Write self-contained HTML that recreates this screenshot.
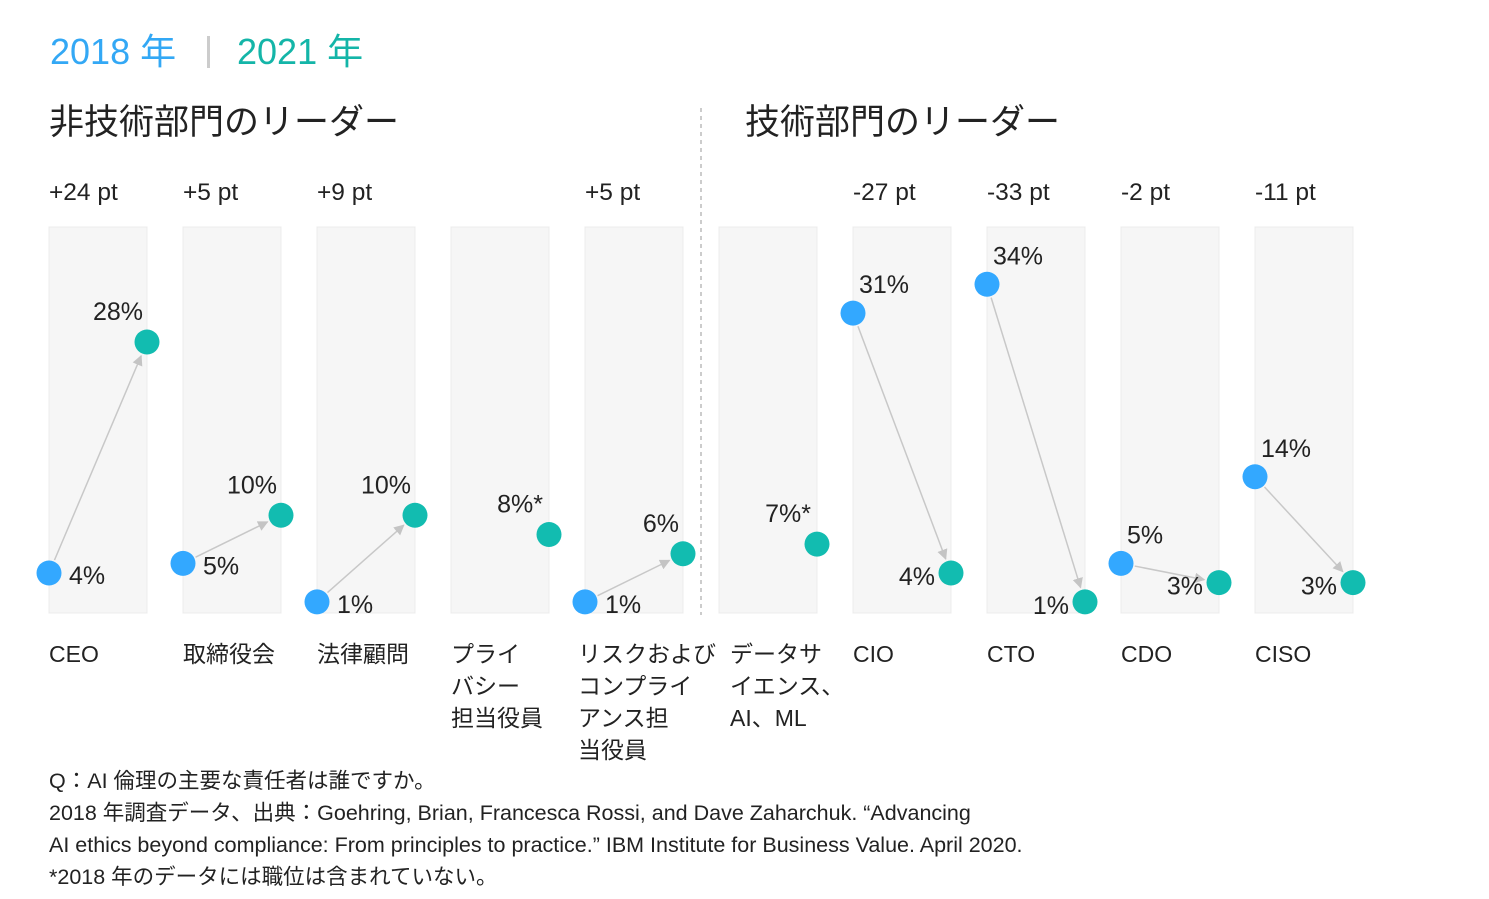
<!DOCTYPE html>
<html><head><meta charset="utf-8"><style>
body{margin:0;background:#fff;}
svg text{font-family:"Liberation Sans","Noto Sans CJK JP",sans-serif;}
</style></head><body>
<svg id="chart" width="1489" height="894" viewBox="0 0 1489 894">
<defs><marker id="ah" viewBox="0 0 10 10" refX="9" refY="5" markerWidth="7" markerHeight="7" orient="auto"><path d="M0,0L10,5L0,10z" fill="#c4c4c4"/></marker></defs>
<text x="50" y="64" font-size="36" fill="#33a8f5">2018 年</text>
<rect x="207" y="36" width="3" height="32" fill="#ccc"/>
<text x="237" y="64" font-size="36" fill="#14b5a8">2021 年</text>
<text x="49" y="134" font-size="35" fill="#222">非技術部門のリーダー</text>
<text x="745" y="134" font-size="35" fill="#222">技術部門のリーダー</text>
<line x1="701" y1="108" x2="701" y2="615" stroke="#bbb" stroke-width="1.5" stroke-dasharray="4,4"/>
<g id="cols"></g>
<g font-size="21.5" fill="#222">
<text x="49" y="788">Q：AI 倫理の主要な責任者は誰ですか。</text>
<text x="49" y="820">2018 年調査データ、出典：Goehring, Brian, Francesca Rossi, and Dave Zaharchuk. “Advancing</text>
<text x="49" y="852">AI ethics beyond compliance: From principles to practice.” IBM Institute for Business Value. April 2020.</text>
<text x="49" y="884">*2018 年のデータには職位は含まれていない。</text>
</g>
</svg>
<script>
const categories=[["CEO"],["取締役会"],["法律顧問"],["プライ","バシー","担当役員"],["リスクおよび","コンプライ","アンス担","当役員"],["データサ","イエンス、","AI、ML"],["CIO"],["CTO"],["CDO"],["CISO"]];
const values2018=[4,5,1,null,1,null,31,34,5,14];
const values2021=[28,10,10,8,6,7,4,1,3,3];
const changeLabels=["+24 pt","+5 pt","+9 pt","","+5 pt","","-27 pt","-33 pt","-2 pt","-11 pt"];
const ns="http://www.w3.org/2000/svg";
const g=document.getElementById("cols");
const y=v=>611.5-v*9.625;
const colX=i=>49+i*134;
function mk(t,a){const e=document.createElementNS(ns,t);for(const k in a)e.setAttribute(k,a[k]);g.appendChild(e);return e;}
categories.forEach((c,i)=>{
  const x0=colX(i),x1=x0+98;
  const bg=mk("rect",{x:x0,y:227,width:98,height:386,fill:"#f6f6f6",stroke:"#ececec"});
  
  
  if(changeLabels[i]){const t=mk("text",{x:x0,y:200,"font-size":24.5,fill:"#222"});t.textContent=changeLabels[i];
    
    }
  const lx=i===4?x0-7:(i===5?x0+11:x0);
  c.forEach((ln,j)=>{const t=mk("text",{x:lx,y:662+j*32,"font-size":23,fill:"#222"});t.textContent=ln;
    
    });
  const a=values2018[i],b=values2021[i];
  const yb=y(b);
  if(a!==null){
    const ya=y(a);
    const dx=x1-x0,dy=yb-ya,L=Math.hypot(dx,dy);
    const ln=mk("line",{x1:x0+dx/L*14,y1:ya+dy/L*14,x2:x1-dx/L*15,y2:yb-dy/L*15,stroke:"#c8c8c8","stroke-width":1.5,"marker-end":"url(#ah)"});
    
    
    const d=mk("circle",{cx:x0,cy:ya,r:12.5,fill:"#33a8ff"});
    
    
    const t=mk("text",{"font-size":25,fill:"#222"});t.textContent=a+"%";
    
    
    if(b>=a){t.setAttribute("x",x0+20);t.setAttribute("y",ya+11);}
    else{t.setAttribute("x",x0+6);t.setAttribute("y",ya-20);}
  }
  const d2=mk("circle",{cx:x1,cy:yb,r:12.5,fill:"#12bcb0"});
  
  
  const t2=mk("text",{"font-size":25,fill:"#222"});
  t2.textContent=b+"%"+(a===null?"*":"");
  
  
  if(a===null||b>=a){t2.setAttribute("x",a===null?x1-6:x1-4);t2.setAttribute("y",yb-22);t2.setAttribute("text-anchor","end");}
  else{t2.setAttribute("x",x1-16);t2.setAttribute("y",yb+12);t2.setAttribute("text-anchor","end");}
});
</script>
</body></html>
